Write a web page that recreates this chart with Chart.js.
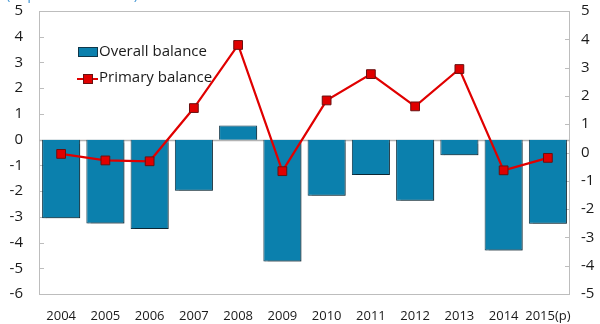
<!DOCTYPE html>
<html>
<head>
<meta charset="utf-8">
<script src="https://cdn.jsdelivr.net/npm/chart.js@4.4.1/dist/chart.umd.min.js"></script>
<style>
html,body{margin:0;padding:0;background:#fff;}
#wrap{width:600px;height:324px;position:relative;}
</style>
</head>
<body>
<div id="wrap"><canvas id="c" width="600" height="324"></canvas></div>
<script>
const years = ['2004','2005','2006','2007','2008','2009','2010','2011','2012','2013','2014','2015(p)'];
const overallBalance = [-3.06, -3.26, -3.47, -1.99, 0.55, -4.74, -2.18, -1.37, -2.38, -0.61, -4.31, -3.27];
const primaryBalance = [-0.05, -0.28, -0.31, 1.57, 3.80, -0.66, 1.84, 2.77, 1.63, 2.95, -0.63, -0.19];
const leftTicks = [-6,-5,-4,-3,-2,-1,0,1,2,3,4,5];
const rightTicks = [-5,-4,-3,-2,-1,0,1,2,3,4,5];
const seriesNames = ['Overall balance','Primary balance'];
const unitLabel = '(in percent of GDP)';

const FONT = "'Open Sans', 'Noto Sans', sans-serif";
const BAR_FILL = '#0b80ad';
const BAR_EDGE = '#10374a';
const LINE_RED = '#e00000';
const AXIS_GREY = '#bdbdbd';

const framePlugin = {
  id: 'frame',
  beforeDatasetsDraw(chart) {
    const {ctx, chartArea: a} = chart;
    ctx.save();
    ctx.strokeStyle = AXIS_GREY;
    ctx.lineWidth = 1;
    ctx.strokeRect(Math.round(a.left)+0.5, Math.round(a.top)+0.5, Math.round(a.right-a.left)-1, Math.round(a.bottom-a.top));
    const yl = chart.scales.y, yr = chart.scales.y2;
    ctx.beginPath();
    leftTicks.forEach(v => { const p = Math.round(yl.getPixelForValue(v))+0.5; ctx.moveTo(a.left, p); ctx.lineTo(a.left+5, p); });
    rightTicks.forEach(v => { const p = Math.round(yr.getPixelForValue(v))+0.5; ctx.moveTo(a.right-5, p); ctx.lineTo(a.right, p); });
    ctx.stroke();
    const z = Math.round(yl.getPixelForValue(0))+0.5;
    ctx.strokeStyle = '#b3b3b3';
    ctx.lineWidth = 1.5;
    ctx.beginPath(); ctx.moveTo(a.left, z); ctx.lineTo(a.right, z); ctx.stroke();
    ctx.restore();
  },
  beforeDatasetDraw(chart, args) {
    if (args.index === 0) {
      const ctx = chart.ctx;
      ctx.save();
      ctx.shadowColor = 'rgba(0,0,0,0.3)';
      ctx.shadowOffsetX = 1.5;
      ctx.shadowOffsetY = 1.5;
      ctx.shadowBlur = 1;
    }
  },
  afterDatasetDraw(chart, args) {
    if (args.index === 0) chart.ctx.restore();
  },
  afterDraw(chart) {
    const ctx = chart.ctx;
    ctx.save();
    ctx.fillStyle = '#4a9bd6';
    ctx.font = '15px ' + FONT;
    ctx.textBaseline = 'alphabetic';
    ctx.textAlign = 'left';
    ctx.fillText(unitLabel, 6, -1);
    ctx.font = '15px ' + FONT;
    ctx.textBaseline = 'middle';
    ctx.fillStyle = BAR_FILL;
    ctx.fillRect(78.5, 47.5, 19, 9);
    ctx.strokeStyle = BAR_EDGE; ctx.lineWidth = 1;
    ctx.strokeRect(78.5, 47.5, 19, 9);
    ctx.fillStyle = '#1a1a1a';
    ctx.fillText(seriesNames[0], 99, 52);
    ctx.strokeStyle = LINE_RED; ctx.lineWidth = 2;
    ctx.beginPath(); ctx.moveTo(77, 79); ctx.lineTo(98, 79); ctx.stroke();
    ctx.fillStyle = LINE_RED; ctx.fillRect(83.5, 74.5, 9, 9);
    ctx.strokeStyle = '#6a1010'; ctx.lineWidth = 1; ctx.strokeRect(83.5, 74.5, 9, 9);
    ctx.fillStyle = '#1a1a1a';
    ctx.fillText(seriesNames[1], 99, 78);
    ctx.restore();
  }
};

new Chart(document.getElementById('c'), {
  data: {
    labels: years,
    datasets: [
      {
        type: 'bar', label: seriesNames[0], data: overallBalance, yAxisID: 'y',
        backgroundColor: BAR_FILL, borderColor: BAR_EDGE, borderWidth: 1,
        categoryPercentage: 1.0, barPercentage: 0.86, order: 2
      },
      {
        type: 'line', label: seriesNames[1], data: primaryBalance, yAxisID: 'y2',
        borderColor: LINE_RED, borderWidth: 2.2, tension: 0,
        pointStyle: 'rect', pointRadius: 6.2, pointBackgroundColor: LINE_RED,
        pointBorderColor: '#6a1010', pointBorderWidth: 1, order: 1
      }
    ]
  },
  options: {
    responsive: false,
    animation: false,
    layout: { autoPadding: false, padding: { top: 11, left: 0, right: 0, bottom: 0 } },
    plugins: { legend: { display: false }, tooltip: { enabled: false } },
    scales: {
      x: {
        grid: { display: false, drawTicks: false },
        border: { display: false },
        ticks: { color: '#1a1a1a', font: { family: FONT, size: 13 }, padding: 14, maxRotation: 0, autoSkip: false },
        afterFit(s) { s.height = 30; }
      },
      y: {
        position: 'left', min: -6, max: 5,
        grid: { display: false, drawTicks: false },
        border: { display: false },
        ticks: { stepSize: 1, color: '#1a1a1a', font: { family: FONT, size: 15 }, padding: 16 },
        afterFit(s) { s.width = 39; s.paddingTop = 0; s.paddingBottom = 0; }
      },
      y2: {
        position: 'right', min: -5, max: 5,
        grid: { display: false, drawTicks: false },
        border: { display: false },
        ticks: { stepSize: 1, color: '#1a1a1a', font: { family: FONT, size: 15 }, padding: 11 },
        afterFit(s) { s.width = 30; s.paddingTop = 0; s.paddingBottom = 0; }
      }
    }
  },
  plugins: [framePlugin]
});
</script>
</body>
</html>
